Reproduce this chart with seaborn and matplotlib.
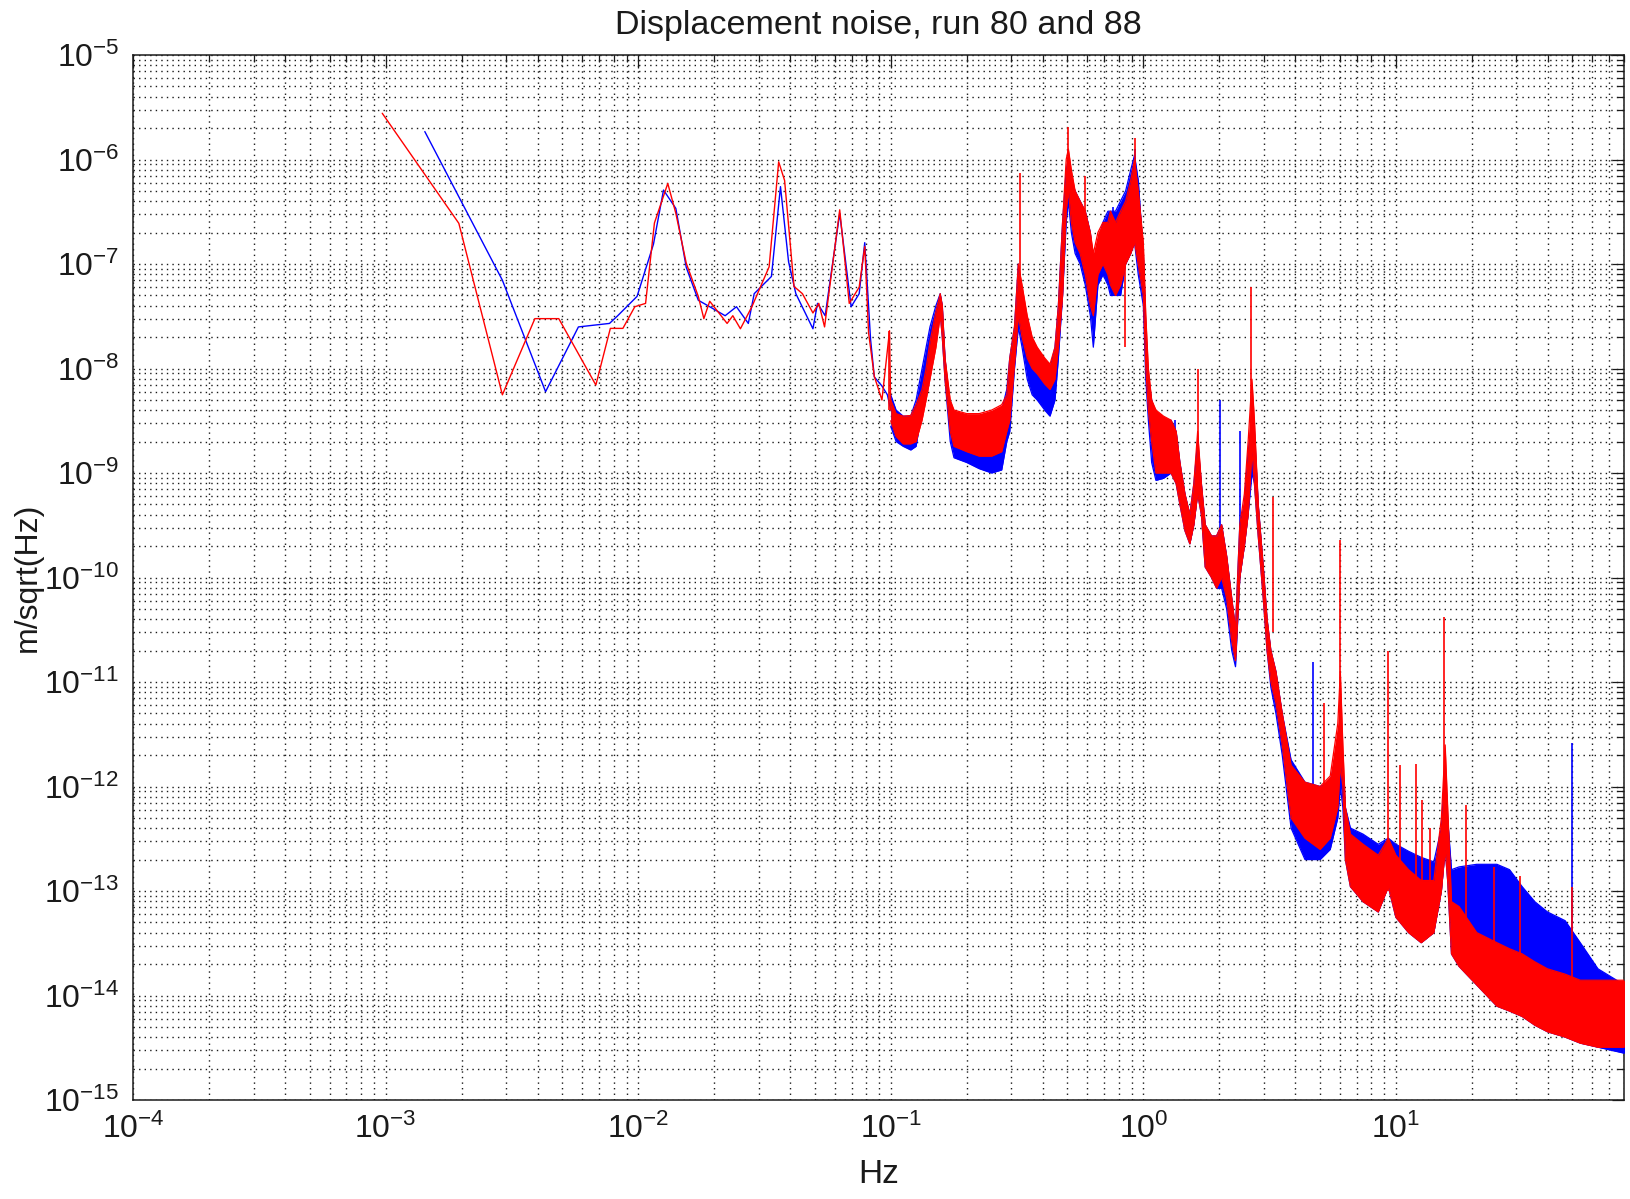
import matplotlib
matplotlib.use("Agg")
import matplotlib.pyplot as plt
import matplotlib.ticker as mticker
import numpy as np
import pandas as pd
import seaborn as sns

sns.set_theme(style="white")
plt.rcParams["font.family"] = ["Liberation Sans", "DejaVu Sans"]
plt.rcParams["mathtext.fontset"] = "custom"
plt.rcParams["mathtext.rm"] = "Liberation Sans"
plt.rcParams["mathtext.it"] = "Liberation Sans:italic"
plt.rcParams["mathtext.bf"] = "Liberation Sans:bold"
plt.rcParams["mathtext.default"] = "regular"

# ---------------------------------------------------------------- data
# low-frequency part of the spectra (single resolved lines)
run80_lf_hz = [0.00143, 0.0029, 0.0043, 0.0058, 0.0077, 0.0083, 0.0099, 0.0115,
               0.0126, 0.0141, 0.0155, 0.0173, 0.0192, 0.0221, 0.0245, 0.0273,
               0.0288, 0.0337, 0.0366, 0.0394, 0.0421, 0.0492, 0.0513, 0.055,
               0.0628, 0.0697, 0.075, 0.0789, 0.0832, 0.0861, 0.0923, 0.097, 0.100]
run80_lf_amp = [1.85e-6, 7.0e-8, 6.0e-9, 2.5e-8, 2.7e-8, 3.2e-8, 4.9e-8, 1.55e-7,
                5.1e-7, 3.4e-7, 9.3e-8, 4.5e-8, 3.9e-8, 3.2e-8, 3.9e-8, 2.7e-8,
                5.2e-8, 7.6e-8, 5.5e-7, 1.05e-7, 5.2e-8, 2.4e-8, 4.2e-8, 3.2e-8,
                3.05e-7, 3.9e-8, 5.2e-8, 1.6e-7, 1.9e-8, 8.3e-9, 6.8e-9, 5.6e-9, 4.0e-9]

run88_lf_hz = [0.00097, 0.00195, 0.0029, 0.0039, 0.00485, 0.0068, 0.00776, 0.0087,
               0.0097, 0.0107, 0.0116, 0.0131, 0.0141, 0.0155, 0.0173, 0.0182,
               0.0192, 0.0225, 0.0237, 0.0254, 0.0282, 0.033, 0.036, 0.038,
               0.0414, 0.0447, 0.0492, 0.0519, 0.0547, 0.0628, 0.0685, 0.075,
               0.0789, 0.0817, 0.0861, 0.0923, 0.0989, 0.100]
run88_lf_amp = [2.77e-6, 2.45e-7, 5.6e-9, 3.0e-8, 3.0e-8, 6.95e-9, 2.42e-8, 2.42e-8,
                3.9e-8, 4.2e-8, 2.47e-7, 5.9e-7, 3.05e-7, 1.02e-7, 4.9e-8, 3.0e-8,
                4.4e-8, 2.7e-8, 3.2e-8, 2.4e-8, 3.9e-8, 9.4e-8, 9.5e-7, 6.3e-7,
                6.1e-8, 5.2e-8, 3.4e-8, 4.2e-8, 2.5e-8, 3.3e-7, 4.2e-8, 6.0e-8,
                1.47e-7, 2.2e-8, 8.4e-9, 5.0e-9, 2.3e-8, 4.0e-9]

# dense part of the spectra: envelope of the noisy trace
band_hz = [0.100, 0.105, 0.112, 0.120, 0.126, 0.133, 0.138, 0.143, 0.151, 0.157,
           0.160, 0.164, 0.172, 0.178, 0.200, 0.224, 0.251, 0.275, 0.288, 0.296,
           0.309, 0.320, 0.331, 0.347, 0.363, 0.380, 0.407, 0.427, 0.447, 0.461,
           0.479, 0.495, 0.505, 0.519, 0.537, 0.562, 0.589, 0.617, 0.634, 0.661,
           0.692, 0.724, 0.741, 0.776, 0.813, 0.851, 0.891, 0.923, 0.955, 1.000,
           1.023, 1.047, 1.079, 1.122, 1.202, 1.288, 1.349, 1.396, 1.462, 1.528,
           1.585, 1.641, 1.698, 1.758, 1.862, 1.950, 2.042, 2.138, 2.239, 2.317,
           2.410, 2.512, 2.600, 2.692, 2.754, 2.851, 2.985, 3.090, 3.199, 3.350,
           3.548, 3.846, 4.365, 5.012, 5.495, 5.888, 6.026, 6.166, 6.310, 6.607,
           7.413, 8.511, 9.333, 10.00, 11.22, 12.59, 14.13, 15.14, 15.67, 16.03,
           16.60, 17.78, 20.89, 25.12, 28.18, 31.62, 35.48, 39.81, 46.77, 53.70,
           63.10, 80.35]

run80_hi = [5.6e-9, 4.0e-9, 3.5e-9, 3.5e-9, 5.0e-9, 1.0e-8, 1.6e-8, 2.5e-8, 4.0e-8, 5.2e-8,
            4.0e-8, 1.26e-8, 4.0e-9, 3.2e-9, 3.2e-9, 3.2e-9, 3.5e-9, 4.0e-9, 6.3e-9, 1.26e-8,
            2.5e-8, 1.0e-7, 5.0e-8, 2.5e-8, 1.6e-8, 1.26e-8, 1.0e-8, 1.0e-8, 1.6e-8, 4.0e-8,
            2.5e-7, 7.9e-7, 1.0e-6, 6.3e-7, 5.0e-7, 4.0e-7, 3.2e-7, 2.0e-7, 1.0e-7, 1.6e-7,
            2.5e-7, 3.2e-7, 3.2e-7, 3.2e-7, 4.0e-7, 5.0e-7, 7.9e-7, 1.1e-6, 6.3e-7, 1.26e-7,
            2.5e-8, 7.9e-9, 5.0e-9, 3.5e-9, 3.2e-9, 3.2e-9, 2.5e-9, 1.26e-9, 6.3e-10, 4.0e-10,
            7.9e-10, 2.0e-9, 7.9e-10, 3.2e-10, 2.5e-10, 2.5e-10, 3.2e-10, 1.6e-10, 6.3e-11, 3.2e-11,
            3.2e-10, 5.0e-10, 1.6e-9, 3.2e-9, 2.5e-9, 5.0e-10, 1.26e-10, 4.0e-11, 2.0e-11, 1.26e-11,
            5.0e-12, 1.8e-12, 1.1e-12, 1.0e-12, 1.1e-12, 2.5e-12, 5.0e-12, 1.6e-12, 6.3e-13, 4.0e-13,
            3.5e-13, 2.8e-13, 3.2e-13, 2.8e-13, 2.4e-13, 2.1e-13, 1.9e-13, 4.0e-13, 1.6e-12, 5.0e-13,
            1.6e-13, 1.7e-13, 1.8e-13, 1.8e-13, 1.6e-13, 1.1e-13, 7.9e-14, 6.3e-14, 5.2e-14, 3.2e-14,
            1.8e-14, 1.26e-14]
run80_lo = [2.8e-9, 2.0e-9, 1.8e-9, 1.66e-9, 1.8e-9, 4.0e-9, 6.3e-9, 1.0e-8, 2.0e-8, 3.5e-8,
            2.0e-8, 7.9e-9, 2.0e-9, 1.4e-9, 1.26e-9, 1.1e-9, 1.0e-9, 1.07e-9, 2.0e-9, 2.5e-9,
            1.0e-8, 2.5e-8, 1.6e-8, 7.9e-9, 5.6e-9, 5.0e-9, 4.0e-9, 3.5e-9, 5.0e-9, 1.26e-8,
            5.0e-8, 2.5e-7, 4.0e-7, 2.0e-7, 1.26e-7, 1.0e-7, 6.3e-8, 3.2e-8, 1.6e-8, 6.3e-8,
            7.9e-8, 6.3e-8, 5.0e-8, 5.0e-8, 5.0e-8, 1.0e-7, 1.26e-7, 1.6e-7, 7.9e-8, 4.0e-8,
            7.9e-9, 3.2e-9, 1.26e-9, 8.5e-10, 8.9e-10, 1.0e-9, 7.9e-10, 5.0e-10, 2.8e-10, 2.1e-10,
            3.2e-10, 6.3e-10, 4.0e-10, 1.26e-10, 1.0e-10, 7.9e-11, 7.9e-11, 5.0e-11, 2.0e-11, 1.4e-11,
            1.0e-10, 2.0e-10, 4.0e-10, 1.0e-9, 7.9e-10, 2.5e-10, 6.3e-11, 2.0e-11, 8.9e-12, 5.0e-12,
            2.0e-12, 4.0e-13, 2.0e-13, 2.0e-13, 2.5e-13, 5.0e-13, 1.0e-12, 6.3e-13, 2.0e-13, 1.1e-13,
            7.9e-14, 6.3e-14, 1.1e-13, 5.6e-14, 4.0e-14, 3.2e-14, 4.0e-14, 1.0e-13, 2.5e-13, 1.26e-13,
            2.5e-14, 1.9e-14, 1.26e-14, 7.9e-15, 7.1e-15, 6.3e-15, 5.2e-15, 4.5e-15, 4.0e-15, 3.5e-15,
            3.2e-15, 2.8e-15]

run88_hi = [5.0e-9, 3.7e-9, 3.5e-9, 3.55e-9, 4.5e-9, 6.3e-9, 1.0e-8, 1.8e-8, 3.5e-8, 5.2e-8,
            4.0e-8, 1.26e-8, 5.0e-9, 4.0e-9, 3.7e-9, 3.7e-9, 4.0e-9, 4.5e-9, 5.6e-9, 1.26e-8,
            2.5e-8, 1.0e-7, 6.3e-8, 3.2e-8, 2.0e-8, 1.6e-8, 1.26e-8, 1.1e-8, 1.6e-8, 4.0e-8,
            2.5e-7, 1.0e-6, 1.26e-6, 7.9e-7, 5.0e-7, 4.0e-7, 3.2e-7, 2.0e-7, 1.26e-7, 2.0e-7,
            2.5e-7, 2.5e-7, 3.2e-7, 2.5e-7, 3.2e-7, 4.0e-7, 6.3e-7, 1.0e-6, 5.0e-7, 1.6e-7,
            3.2e-8, 1.0e-8, 5.0e-9, 4.0e-9, 3.5e-9, 3.2e-9, 2.5e-9, 1.26e-9, 6.3e-10, 4.0e-10,
            7.9e-10, 2.5e-9, 7.9e-10, 3.2e-10, 2.5e-10, 2.5e-10, 3.2e-10, 1.6e-10, 6.3e-11, 3.2e-11,
            3.2e-10, 6.3e-10, 2.0e-9, 7.9e-9, 3.2e-9, 5.0e-10, 1.26e-10, 4.0e-11, 2.0e-11, 1.26e-11,
            5.0e-12, 1.6e-12, 1.1e-12, 1.0e-12, 1.26e-12, 4.0e-12, 1.26e-11, 2.5e-12, 6.3e-13, 3.5e-13,
            2.8e-13, 2.2e-13, 3.2e-13, 2.2e-13, 1.6e-13, 1.26e-13, 1.26e-13, 5.0e-13, 2.5e-12, 6.3e-13,
            7.9e-14, 7.1e-14, 4.0e-14, 3.2e-14, 2.8e-14, 2.5e-14, 2.1e-14, 1.8e-14, 1.6e-14, 1.4e-14,
            1.4e-14, 1.4e-14]
run88_lo = [3.16e-9, 2.24e-9, 1.9e-9, 1.9e-9, 2.0e-9, 3.2e-9, 5.0e-9, 7.9e-9, 1.6e-8, 3.2e-8,
            2.0e-8, 7.9e-9, 2.5e-9, 1.8e-9, 1.6e-9, 1.45e-9, 1.45e-9, 1.6e-9, 2.5e-9, 3.2e-9,
            1.1e-8, 3.2e-8, 2.0e-8, 1.26e-8, 1.0e-8, 8.9e-9, 7.1e-9, 6.3e-9, 7.9e-9, 1.6e-8,
            5.0e-8, 3.2e-7, 5.0e-7, 2.5e-7, 1.6e-7, 1.26e-7, 7.9e-8, 4.0e-8, 3.2e-8, 7.9e-8,
            1.0e-7, 7.9e-8, 6.3e-8, 5.0e-8, 6.3e-8, 1.0e-7, 1.26e-7, 1.6e-7, 1.0e-7, 5.0e-8,
            1.0e-8, 4.0e-9, 2.0e-9, 1.0e-9, 1.0e-9, 1.0e-9, 7.9e-10, 5.0e-10, 2.8e-10, 2.1e-10,
            3.2e-10, 6.3e-10, 4.0e-10, 1.26e-10, 1.0e-10, 7.9e-11, 1.0e-10, 6.3e-11, 2.5e-11, 1.6e-11,
            1.0e-10, 2.0e-10, 4.0e-10, 1.6e-9, 7.9e-10, 2.5e-10, 6.3e-11, 2.0e-11, 1.0e-11, 6.3e-12,
            2.5e-12, 5.0e-13, 3.2e-13, 2.5e-13, 3.2e-13, 6.3e-13, 1.6e-12, 1.0e-12, 2.0e-13, 1.1e-13,
            7.9e-14, 6.3e-14, 1.1e-13, 5.6e-14, 4.0e-14, 3.2e-14, 4.0e-14, 1.0e-13, 2.5e-13, 1.26e-13,
            2.5e-14, 1.9e-14, 1.26e-14, 7.9e-15, 7.1e-15, 6.3e-15, 5.2e-15, 4.5e-15, 4.0e-15, 3.5e-15,
            3.2e-15, 3.2e-15]

# narrow spectral lines standing out of the noise: frequency, foot, tip
run80_line_hz = [0.76, 0.93, 1.33, 2.01, 2.41, 4.70, 50.0]
run80_line_lo = [1.0e-7, 2.0e-7, 1.0e-9, 3.0e-10, 1.0e-10, 1.0e-12, 5.0e-15]
run80_line_hi = [3.5e-7, 1.26e-6, 3.2e-9, 5.0e-9, 2.5e-9, 1.55e-11, 2.6e-12]

run88_line_hz = [0.098, 0.324, 0.505, 0.587, 0.845, 0.93, 1.65, 2.66, 3.27, 5.20,
                 6.01, 9.33, 10.4, 12.0, 12.7, 13.6, 15.5, 19.0, 24.4, 30.9, 50.0]
run88_line_lo = [4.0e-9, 3.0e-8, 5.0e-7, 1.0e-7, 1.6e-8, 2.0e-7, 6.0e-10, 2.0e-9, 3.0e-11, 1.0e-12,
                 3.0e-12, 1.0e-13, 5.0e-14, 4.0e-14, 4.0e-14, 4.0e-14, 2.0e-13, 2.0e-14, 1.0e-14, 1.0e-14,
                 5.0e-15]
run88_line_hi = [2.3e-8, 7.4e-7, 2.06e-6, 6.9e-7, 3.2e-7, 1.6e-6, 9.8e-9, 6.0e-8, 5.9e-10, 6.3e-12,
                 2.3e-10, 2.0e-11, 1.6e-12, 1.65e-12, 7.4e-13, 4.0e-13, 4.2e-11, 6.6e-13, 1.7e-13, 1.4e-13,
                 1.1e-13]

title_text = "Displacement noise, run 80 and 88"
x_label = "Hz"
y_label = "m/sqrt(Hz)"

# ---------------------------------------------------------------- figure
W, H = 1630, 1199
fig = plt.figure(figsize=(W / 100, H / 100), dpi=100)
fig.patch.set_facecolor("white")
ax = fig.add_axes([133 / W, 1 - 1100 / H, (1624 - 133) / W, (1100 - 55) / H])
ax.set_facecolor("white")
ax.set_xscale("log")
ax.set_yscale("log")

series = [
    ("#0000ff", run80_lf_hz, run80_lf_amp, run80_hi, run80_lo,
     run80_line_hz, run80_line_lo, run80_line_hi),
    ("#ff0000", run88_lf_hz, run88_lf_amp, run88_hi, run88_lo,
     run88_line_hz, run88_line_lo, run88_line_hi),
]

for z, (col, lf_hz, lf_amp, hi, lo, ln_hz, ln_lo, ln_hi) in enumerate(series):
    lf = pd.DataFrame({"hz": lf_hz, "amp": lf_amp})
    sns.lineplot(data=lf, x="hz", y="amp", color=col, lw=1.0, ax=ax,
                 estimator=None, sort=False, zorder=3 + z)
    ax.fill_between(band_hz, lo, hi, color=col, lw=0, zorder=3 + z)
    edge = pd.DataFrame({"hz": band_hz + band_hz[::-1], "amp": hi + lo[::-1]})
    sns.lineplot(data=edge, x="hz", y="amp", color=col, lw=0.9, ax=ax,
                 estimator=None, sort=False, zorder=3 + z)
    ax.vlines(ln_hz, ln_lo, ln_hi, colors=col, lw=1.2, zorder=3 + z)

ax.set_xlim(1e-4, 80)
ax.set_ylim(1e-15, 1e-5)

# axes, ticks and the dotted log grid
ax.xaxis.set_major_locator(mticker.LogLocator(base=10, numticks=20))
ax.yaxis.set_major_locator(mticker.LogLocator(base=10, numticks=20))
ax.xaxis.set_minor_locator(mticker.LogLocator(base=10, subs=np.arange(2, 10), numticks=200))
ax.yaxis.set_minor_locator(mticker.LogLocator(base=10, subs=np.arange(2, 10), numticks=200))
dec_fmt = mticker.FuncFormatter(lambda v, p: r"$10^{%d}$" % int(round(np.log10(v))))
ax.xaxis.set_major_formatter(dec_fmt)
ax.yaxis.set_major_formatter(dec_fmt)
ax.xaxis.set_minor_formatter(mticker.NullFormatter())
ax.yaxis.set_minor_formatter(mticker.NullFormatter())
ax.xaxis.get_offset_text().set_visible(False)
ax.yaxis.get_offset_text().set_visible(False)

ax.grid(True, which="both", color="k", linestyle=(0, (1, 3)), linewidth=1.0)
ax.set_axisbelow(True)
ax.tick_params(which="both", direction="in", top=True, right=True,
               colors="k", width=0.9, labelsize=23)
ax.tick_params(which="major", length=9)
ax.tick_params(which="minor", length=5)
ax.tick_params(axis="x", which="major", pad=10)
ax.tick_params(axis="y", which="major", pad=10)
for s in ax.spines.values():
    s.set_color("k")
    s.set_linewidth(1.1)

ax.set_title(title_text, fontsize=24.5, color="k", pad=15)
ax.set_xlabel(x_label, fontsize=24, color="k")
ax.set_ylabel(y_label, fontsize=23, color="k")
ax.xaxis.set_label_coords(0.5, -0.056)
ax.yaxis.set_label_coords(-0.0605, 0.5)

fig.savefig("out.png", dpi=100, facecolor="white")
